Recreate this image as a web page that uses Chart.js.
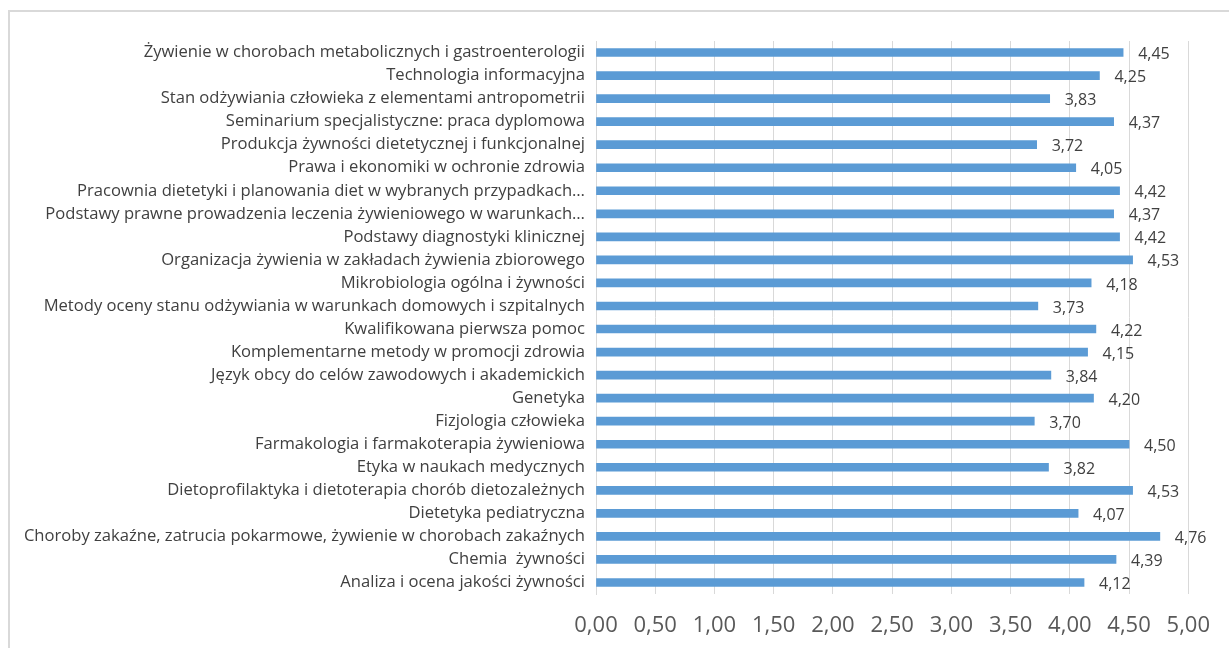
<!DOCTYPE html>
<html>
<head>
<meta charset="utf-8">
<script src="https://cdn.jsdelivr.net/npm/chart.js@4"></script>
<style>
  body { margin: 0; background: #fff; }
  #wrap { position: absolute; left: 0; top: 0; width: 1229px; height: 648px; overflow: hidden; }
  #frame { position: absolute; left: 8px; top: 10px; width: 1240px; height: 660px; border: 2px solid #d9d9d9; box-sizing: border-box; }
  canvas { position: absolute; left: 0; top: 0; }
</style>
</head>
<body>
<div id="wrap">
  <div id="frame"></div>
  <canvas id="bar-chart" width="1229" height="648"></canvas>
</div>
<script>
const subjects = [
    "Żywienie w chorobach metabolicznych i gastroenterologii",
    "Technologia informacyjna",
    "Stan odżywiania człowieka z elementami antropometrii",
    "Seminarium specjalistyczne: praca dyplomowa",
    "Produkcja żywności dietetycznej i funkcjonalnej",
    "Prawa i ekonomiki w ochronie zdrowia",
    "Pracownia dietetyki i planowania diet w wybranych przypadkach…",
    "Podstawy prawne prowadzenia leczenia żywieniowego w warunkach…",
    "Podstawy diagnostyki klinicznej",
    "Organizacja żywienia w zakładach żywienia zbiorowego",
    "Mikrobiologia ogólna i żywności",
    "Metody oceny stanu odżywiania w warunkach domowych i szpitalnych",
    "Kwalifikowana pierwsza pomoc",
    "Komplementarne metody w promocji zdrowia",
    "Język obcy do celów zawodowych i akademickich",
    "Genetyka",
    "Fizjologia człowieka",
    "Farmakologia i farmakoterapia żywieniowa",
    "Etyka w naukach medycznych",
    "Dietoprofilaktyka i dietoterapia chorób dietozależnych",
    "Dietetyka pediatryczna",
    "Choroby zakaźne, zatrucia pokarmowe, żywienie w chorobach zakaźnych",
    "Chemia  żywności",
    "Analiza i ocena jakości żywności"
];

const ratings = [4.45, 4.25, 3.83, 4.37, 3.72, 4.05, 4.42, 4.37, 4.42, 4.53, 4.18, 3.73,
    4.22, 4.15, 3.84, 4.20, 3.70, 4.50, 3.82, 4.53, 4.07, 4.76, 4.39, 4.12];

const xTicks = [0, 0.5, 1, 1.5, 2, 2.5, 3, 3.5, 4, 4.5, 5];

const fmt = v => v.toFixed(2).replace(".", ",");

// value labels to the right of each bar
const valueLabels = {
    id: "valueLabels",
    afterDatasetsDraw(chart) {
        const ctx = chart.ctx;
        const meta = chart.getDatasetMeta(0);
        ctx.save();
        ctx.font = "16px 'Open Sans'";
        ctx.fillStyle = "#404040";
        ctx.textAlign = "left";
        ctx.textBaseline = "middle";
        meta.data.forEach((bar, i) => {
            ctx.fillText(fmt(ratings[i]), bar.x + 15, bar.y + 2);
        });
        ctx.restore();
    }
};

function showGraph() {
    let graphTarget = document.querySelector("#bar-chart");

    new Chart(graphTarget, {
        type: "bar",
        data: {
            labels: subjects,
            datasets: [{
                data: ratings,
                backgroundColor: "#5b9bd5",
                barThickness: 8
            }]
        },
        options: {
            indexAxis: "y",
            responsive: false,
            animation: false,
            layout: { padding: { top: 41, right: 39, left: 0, bottom: 0 } },
            plugins: {
                legend: { display: false },
                tooltip: { enabled: false }
            },
            scales: {
                x: {
                    min: 0,
                    max: 5,
                    afterBuildTicks: axis => {
                        axis.ticks = xTicks.map(v => ({ value: v }));
                    },
                    afterFit: axis => { axis.height = 54; },
                    ticks: {
                        callback: v => fmt(v),
                        font: { family: "Open Sans", size: 22 },
                        color: "#595959",
                        padding: 19,
                        maxRotation: 0
                    },
                    grid: { color: "#d9d9d9", drawTicks: false },
                    border: { display: false }
                },
                y: {
                    afterFit: axis => { axis.width = 596; },
                    ticks: {
                        font: { family: "Open Sans", size: 16.6 },
                        color: "#404040",
                        padding: 11,
                        autoSkip: false
                    },
                    grid: { display: false, drawTicks: false },
                    border: { display: true, color: "#d9d9d9", width: 1 }
                }
            }
        },
        plugins: [valueLabels]
    });
}

showGraph();
</script>
</body>
</html>
